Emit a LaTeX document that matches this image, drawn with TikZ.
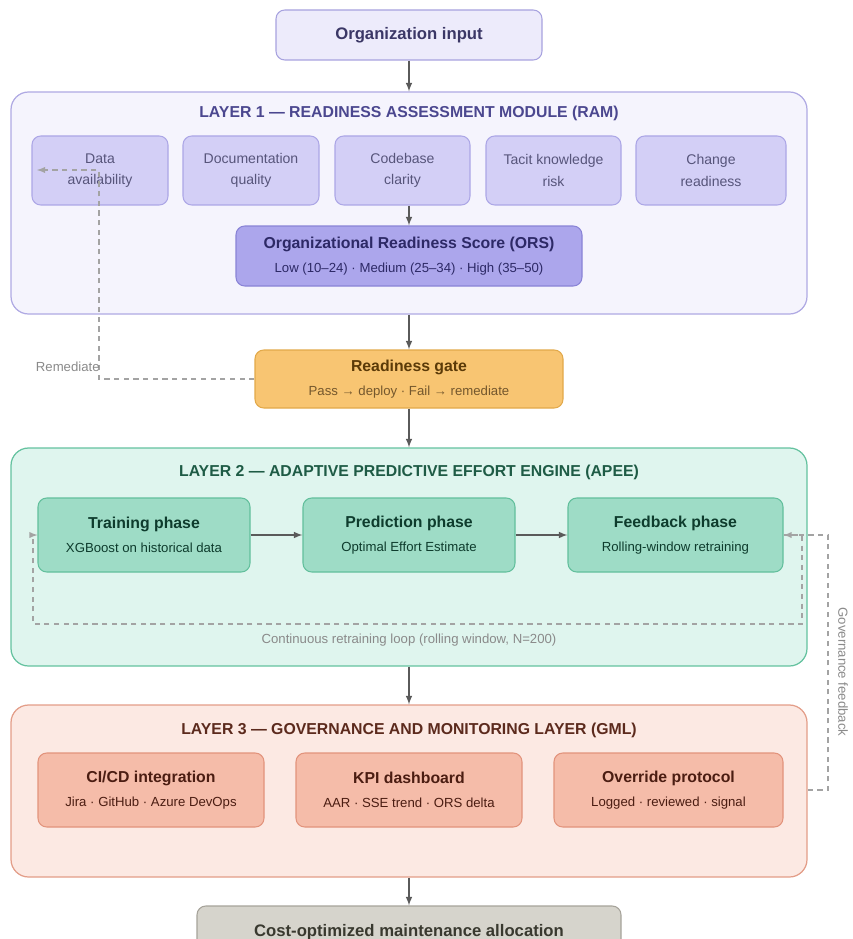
\documentclass[tikz,border=0pt]{standalone}
\usepackage{fontspec}
\setmainfont{Liberation Sans}
\usetikzlibrary{positioning,arrows}

\definecolor{arrowgray}{HTML}{5A5A5A}
\definecolor{dashgray}{HTML}{A3A3A3}
\definecolor{labelgray}{HTML}{8A8A8A}
\definecolor{orgfill}{HTML}{EDEBFB}
\definecolor{orgdraw}{HTML}{A7A2DF}
\definecolor{orgtext}{HTML}{3B3766}
\definecolor{lonefill}{HTML}{F5F4FD}
\definecolor{lonedraw}{HTML}{AFA9E3}
\definecolor{lonetitle}{HTML}{4B478F}
\definecolor{dimfill}{HTML}{D3CFF6}
\definecolor{dimdraw}{HTML}{ACA6E6}
\definecolor{dimtext}{HTML}{57557B}
\definecolor{orsfill}{HTML}{ACA6EC}
\definecolor{orsdraw}{HTML}{8983D6}
\definecolor{orstext}{HTML}{2D2966}
\definecolor{gatefill}{HTML}{F8C572}
\definecolor{gatedraw}{HTML}{E2A94A}
\definecolor{gatetext}{HTML}{5B3A08}
\definecolor{ltwofill}{HTML}{DFF5EE}
\definecolor{ltwodraw}{HTML}{64C29F}
\definecolor{ltwotitle}{HTML}{1E5B45}
\definecolor{phasefill}{HTML}{9EDCC6}
\definecolor{phasedraw}{HTML}{62BF9C}
\definecolor{phasetext}{HTML}{0E3C2D}
\definecolor{lthreefill}{HTML}{FCE9E3}
\definecolor{lthreedraw}{HTML}{E39D88}
\definecolor{lthreetitle}{HTML}{5C2A1D}
\definecolor{gmlfill}{HTML}{F5BCA9}
\definecolor{gmldraw}{HTML}{E2937C}
\definecolor{gmltext}{HTML}{4B1D12}
\definecolor{costfill}{HTML}{D6D4CC}
\definecolor{costdraw}{HTML}{A6A39A}
\definecolor{costtext}{HTML}{39392F}

\newcommand{\ttlfont}{\fontsize{9}{11}\selectfont\bfseries}
\newcommand{\smalltxt}{\fontsize{7.5}{9}\selectfont\mdseries}

\tikzset{
  sz/.style 2 args={minimum width=#1*0.02cm, minimum height=#2*0.02cm},
  arr/.style={-latex, draw=arrowgray, line width=0.7pt},
  dashline/.style={draw=dashgray, line width=0.6pt, dash pattern=on 3pt off 2.5pt},
  layer/.style={draw, rounded corners=10pt, line width=0.7pt, inner sep=0pt},
  cell/.style={draw, rounded corners=5pt, line width=0.6pt, inner sep=0pt, align=center},
  dimbox/.style={cell, fill=dimfill, draw=dimdraw, text=dimtext, font=\fontsize{8}{12}\selectfont, sz={#1}{69}},
  phase/.style={cell, fill=phasefill, draw=phasedraw, text=phasetext, font=\ttlfont, sz={#1}{74}},
  gml/.style={cell, fill=gmlfill, draw=gmldraw, text=gmltext, font=\ttlfont, sz={#1}{74}}
}

\begin{document}
\begin{tikzpicture}[x=0.02cm, y=-0.02cm]
\useasboundingbox (0,0) rectangle (852,939);

% input
\node[cell, fill=orgfill, draw=orgdraw, text=orgtext, sz={266}{50}, font=\fontsize{9.5}{11}\selectfont\bfseries] (org) at (409,35) {Organization input};

% layer 1
\node[layer, fill=lonefill, draw=lonedraw, sz={796}{222}] (layer1) at (409,203) {};
\node[font=\ttlfont, text=lonetitle] (l1title) at (409,113) {LAYER 1 — READINESS ASSESSMENT MODULE (RAM)};
\node[dimbox=136] (data) at (100,170.5) {Data\\availability};
\node[dimbox=136] (docs) at (251,170.5) {Documentation\\quality};
\node[dimbox=135] (code) at (402.5,170.5) {Codebase\\clarity};
\node[dimbox=135] (tacit) at (553.5,170.5) {Tacit knowledge\\risk};
\node[dimbox=150] (change) at (711,170.5) {Change\\readiness};
\node[cell, fill=orsfill, draw=orsdraw, text=orstext, font=\ttlfont, sz={346}{60}] (ors) at (409,256)
  {Organizational Readiness Score (ORS)\\[2.5pt]{\smalltxt Low (10–24) · Medium (25–34) · High (35–50)}};
\draw[arr] (code.south -| ors.north) -- (ors.north);

% gate
\node[cell, fill=gatefill, draw=gatedraw, text=gatetext, font=\ttlfont, sz={308}{58}] (gate) at (409,379)
  {Readiness gate\\[2.5pt]{\smalltxt\color{gatetext!85!white} Pass → deploy · Fail → remediate}};
\draw[arr] (org.south) -- (layer1.north);
\draw[arr] (layer1.south) -- (gate.north);

% remediate loop
\coordinate (remup) at (99,170);
\coordinate (remtip) at (37,170);
\draw[dashline, -latex] (gate.west) -| (remup) -- (remtip);
\node[anchor=east, text=labelgray, font=\smalltxt, inner sep=0pt] (remlabel) at (100,367) {Remediate};

% layer 2
\node[layer, fill=ltwofill, draw=ltwodraw, sz={796}{218}] (layer2) at (409,557) {};
\node[font=\ttlfont, text=ltwotitle] (l2title) at (409,472) {LAYER 2 — ADAPTIVE PREDICTIVE EFFORT ENGINE (APEE)};
\draw[arr] (gate.south) -- (layer2.north);

\coordinate (loopR) at (802,624);
\coordinate (loopL) at (33,624);
\node[phase=212] (train) at (144,535) {Training phase\\[2.5pt]{\smalltxt XGBoost on historical data}};
\node[phase=212] (pred) at (409,535) {Prediction phase\\[2.5pt]{\smalltxt Optimal Effort Estimate}};
\node[phase=215] (feedback) at (675.5,535) {Feedback phase\\[2.5pt]{\smalltxt Rolling-window retraining}};
\draw[arr] (train) -- (pred);
\draw[arr] (pred) -- (feedback);
\draw[dashline, -latex] (feedback.east) -| (loopR) -- (loopL) |- (train.west);
\node[text=labelgray, font=\smalltxt] (looplabel) at (409,640) {Continuous retraining loop (rolling window, N=200)};

% layer 3
\node[layer, fill=lthreefill, draw=lthreedraw, sz={796}{172}] (layer3) at (409,791) {};
\node[font=\ttlfont, text=lthreetitle] (l3title) at (409,730) {LAYER 3 — GOVERNANCE AND MONITORING LAYER (GML)};
\draw[arr] (layer2.south) -- (layer3.north);
\node[gml=226] (cicd) at (151,790) {CI/CD integration\\[2.5pt]{\smalltxt Jira · GitHub · Azure DevOps}};
\node[gml=226] (kpi) at (409,790) {KPI dashboard\\[2.5pt]{\smalltxt AAR · SSE trend · ORS delta}};
\node[gml=229] (override) at (668.5,790) {Override protocol\\[2.5pt]{\smalltxt Logged · reviewed · signal}};

% governance feedback
\coordinate (govR) at (828,790);
\draw[dashline, -latex] (override.east -| layer3.east) -- (govR) |- (feedback.east);
\node[rotate=-90, text=labelgray, font=\smalltxt] (govlabel) at (843,672) {Governance feedback};

% output
\node[cell, fill=costfill, draw=costdraw, text=costtext, sz={424}{52}, font=\fontsize{9.5}{11}\selectfont\bfseries] (cost) at (409,932) {Cost-optimized maintenance allocation};
\draw[arr] (layer3.south) -- (cost.north);

\end{tikzpicture}
\end{document}
